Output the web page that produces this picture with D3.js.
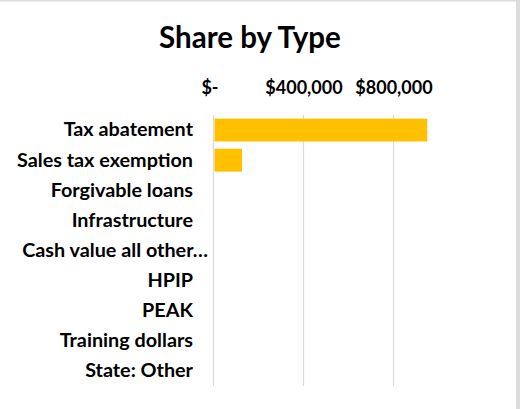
<!DOCTYPE html>
<html><head><meta charset="utf-8">
<script src="https://cdn.jsdelivr.net/npm/d3@7"></script>
<style>html,body{margin:0;padding:0;background:#fff;}svg{display:block;}</style>
</head><body>
<script>
const categories = ["Tax abatement","Sales tax exemption","Forgivable loans","Infrastructure","Cash value all other…","HPIP","PEAK","Training dollars","State: Other"];
const values = [950000, 127000, 0, 0, 0, 0, 0, 0, 0];
const tickValues = [0, 400000, 800000];
const tickLabels = ["$-", "$400,000", "$800,000"];

const W = 520, H = 409;
const svg = d3.select("body").append("svg").attr("width", W).attr("height", H);
svg.append("rect").attr("width", W).attr("height", H).attr("fill", "#fff");
// frame edges
svg.append("rect").attr("x",0).attr("y",0).attr("width",W).attr("height",1.5).attr("fill","#dcdcdc");
svg.append("rect").attr("x",516).attr("y",0).attr("width",4).attr("height",H).attr("fill","#dcdcdc");

const font = "Lato, 'Open Sans', sans-serif";
const x = d3.scaleLinear().domain([0, 1200000]).range([213.5, 483.5]);
const y = d3.scaleBand().domain(categories).range([115, 386]).paddingInner(0.24).paddingOuter(0.12);

svg.append("text").attr("x", 250).attr("y", 48).attr("text-anchor","middle")
  .attr("font-family", font).attr("font-weight","bold").attr("font-size", 29.5).attr("fill","#000")
  .text("Share by Type");

// gridlines
const g = svg.append("g");
g.selectAll("line.grid").data(tickValues).join("line")
  .attr("x1", d => x(d)).attr("x2", d => x(d)).attr("y1", 115).attr("y2", 386)
  .attr("stroke", "#d9d9d9").attr("stroke-width", 1.2);

// top axis
const axis = d3.axisTop(x).tickValues(tickValues).tickSize(0)
  .tickFormat((d,i) => tickLabels[i]);
const ax = svg.append("g").attr("transform", "translate(0,97)").call(axis);
ax.select(".domain").remove();
ax.selectAll("text").attr("font-family", font).attr("font-weight","bold").attr("font-size", 18)
  .attr("fill","#000").attr("dx", (d,i) => i === 0 ? -4 : 0);

// bars
svg.append("g").selectAll("rect").data(values).join("rect")
  .attr("x", x(0) + 1).attr("y", (d,i) => y(categories[i]))
  .attr("width", d => Math.max(0, x(d) - x(0) - 1)).attr("height", y.bandwidth())
  .attr("fill", "#ffc000");

// category labels
const ay = d3.axisLeft(y).tickSize(0).tickPadding(0);
const cy = svg.append("g").attr("transform","translate(193,0)").call(ay);
cy.select(".domain").remove();
cy.selectAll("text").attr("font-family", font).attr("font-weight","bold").attr("font-size", 19.8).attr("fill","#000")
  .attr("dx", d => d.endsWith("…") ? 15 : 0);
</script>
</body></html>
